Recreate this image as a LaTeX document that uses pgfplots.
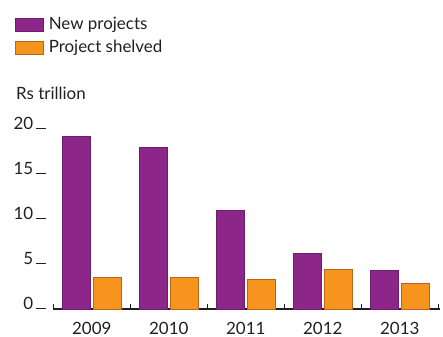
\documentclass[border=0pt]{standalone}
\usepackage{pgfplots}
\pgfplotsset{compat=1.18}
\usepackage{fontspec}
\setmainfont{Lato}
\definecolor{newproj}{HTML}{8D2689}
\definecolor{newedge}{HTML}{6E1C6B}
\definecolor{shelved}{HTML}{F7941D}
\definecolor{shelvededge}{HTML}{B8651C}
\definecolor{ink}{HTML}{231F20}
\begin{document}
\fontsize{17}{20}\selectfont
\begin{tikzpicture}
\path[use as bounding box] (0,0) rectangle (443bp,337bp);
\begin{axis}[
    at={(53.3bp,27.7bp)}, anchor=south west,
    scale only axis,
    width=385bp, height=180bp,
    xmin=-0.5, xmax=4.5,
    ymin=0, ymax=20,
    ybar, bar width=28bp,
    axis y line*=left, axis x line*=bottom,
    y axis line style={draw=none},
    x axis line style={ink, line width=2pt, shorten >=-2bp},
    xtick={0,1,2,3,4},
    xticklabels={2009,2010,2011,2012,2013},
    minor xtick={-0.5,0.5,1.5,2.5,3.5,4.5},
    major x tick style={draw=none},
    minor x tick style={ink, line width=0.8pt},
    minor tick length=5bp,
    tick align=inside,
    ytick={0,5,10,15,20},
    major y tick style={draw=none},
    yticklabel={\pgfmathprintnumber{\tick}\hspace{2.5bp}\textcolor{ink}{\rule{10bp}{0.9pt}}},
    yticklabel style={anchor=base east, inner sep=0pt, xshift=-7.3bp},
    xticklabel style={anchor=base, inner sep=0pt, yshift=-24.7bp},
    tick label style={text=ink, font=\fontsize{17}{20}\selectfont},
    /pgf/number format/assume math mode=true,
    legend style={draw=none, fill=none, at={(axis description cs:-0.0995,1.635)},
        anchor=north west, inner sep=0pt, row sep=4bp,
        font=\fontsize{17}{20}\selectfont, text=ink,
        legend cell align=left},
    legend image code/.code={\draw[#1] (0bp,-6.7bp) rectangle (28bp,6.7bp);},
    clip=false,
]
\addplot[bar shift=-15.5bp, fill=newproj, draw=newedge, line width=0.6pt]
    coordinates {(0,19.2) (1,18.0) (2,11.0) (3,6.2) (4,4.3)};
\addlegendentry{\hspace{3bp}New projects}
\addplot[bar shift=15.5bp, fill=shelved, draw=shelvededge, line width=0.6pt]
    coordinates {(0,3.55) (1,3.55) (2,3.3) (3,4.45) (4,2.9)};
\addlegendentry{\hspace{3bp}Project shelved}
\node[anchor=base west, text=ink, inner sep=0pt] at (axis description cs:-0.0969,1.163) {Rs trillion};
\end{axis}
\end{tikzpicture}
\end{document}
